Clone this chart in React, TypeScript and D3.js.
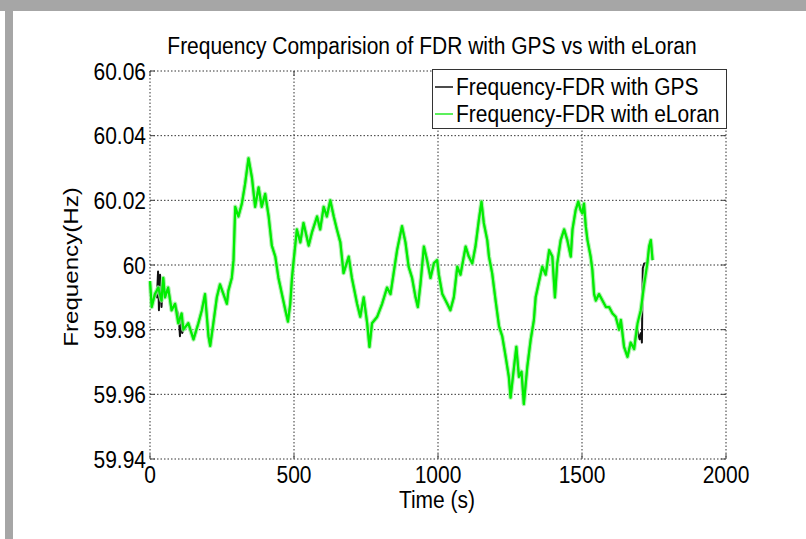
import React from "react";
import * as d3 from "d3";

// ---- data ----
const xTicks = [0, 500, 1000, 1500, 2000];
const yTicks = [59.94, 59.96, 59.98, 60, 60.02, 60.04, 60.06];
const yTickLabels = ["59.94", "59.96", "59.98", "60", "60.02", "60.04", "60.06"];

const eloranTimes = [
  0, 6, 17, 29, 40, 46, 52, 63, 75, 87, 98, 110, 116, 133, 151, 168, 180, 191, 203, 209,
  220, 232, 243, 255, 267, 272, 284, 290, 296, 307, 319, 330, 342, 354, 365, 377, 388, 400, 412, 423,
  435, 446, 458, 470, 479, 487, 493, 499, 510, 522, 533, 551, 562, 580, 591, 603, 614, 626, 638, 649,
  661, 672, 690, 701, 719, 730, 742, 754, 762, 771, 789, 806, 823, 835, 846, 858, 875, 887, 898, 910,
  922, 930, 939, 951, 962, 974, 986, 997, 1003, 1015, 1032, 1043, 1055, 1067, 1078, 1096, 1107, 1119, 1130, 1142,
  1151, 1159, 1171, 1177, 1188, 1200, 1212, 1223, 1235, 1246, 1252, 1264, 1272, 1281, 1290, 1298, 1310, 1322, 1333, 1339,
  1351, 1362, 1374, 1386, 1397, 1406, 1414, 1426, 1438, 1449, 1461, 1467, 1478, 1487, 1495, 1501, 1507, 1513, 1519, 1530,
  1536, 1542, 1548, 1559, 1571, 1583, 1594, 1606, 1617, 1629, 1635, 1646, 1658, 1669, 1681, 1693, 1704, 1716, 1727, 1733,
  1739, 1745,
];
const eloranValues = [
  59.995, 59.987, 59.991, 59.993, 59.989, 59.996, 59.99, 59.993, 59.986, 59.988, 59.982, 59.985, 59.98, 59.982, 59.977, 59.982, 59.986, 59.991, 59.978, 59.975,
  59.982, 59.99, 59.994, 59.991, 59.988, 59.992, 59.996, 60.0015, 60.018, 60.015, 60.019, 60.025, 60.033, 60.027, 60.018, 60.024, 60.018, 60.022, 60.015, 60.006,
  60.0026, 59.996, 59.991, 59.986, 59.9825, 59.988, 59.996, 60.0015, 60.011, 60.007, 60.013, 60.006, 60.01, 60.015, 60.011, 60.018, 60.015, 60.02, 60.015, 60.011,
  60.007, 59.9975, 60.0026, 59.996, 59.988, 59.984, 59.99, 59.982, 59.9747, 59.982, 59.984, 59.988, 59.993, 59.991, 59.9975, 60.0046, 60.012, 60.007, 59.9995, 59.996,
  59.99, 59.987, 59.994, 60.0057, 60.0015, 59.996, 60.0006, 60.0015, 59.997, 59.991, 59.988, 59.986, 59.99, 59.9995, 59.997, 60.0057, 60.0026, 60.0005, 60.0057, 60.014,
  60.0196, 60.013, 60.0077, 60.0026, 59.9975, 59.989, 59.981, 59.978, 59.9716, 59.9654, 59.959, 59.9685, 59.9747, 59.9654, 59.967, 59.957, 59.9685, 59.977, 59.983, 59.99,
  59.995, 59.9995, 59.997, 60.0046, 60.0026, 59.99, 60.0005, 60.0077, 60.011, 60.0077, 60.0026, 60.011, 60.017, 60.0196, 60.017, 60.016, 60.019, 60.012, 60.0077, 60.0026,
  59.9985, 59.991, 59.989, 59.991, 59.989, 59.987, 59.987, 59.985, 59.984, 59.98, 59.983, 59.9747, 59.9716, 59.976, 59.974, 59.982, 59.986, 59.994, 60.0006, 60.0057,
  60.0077, 60.0015,
];

// GPS matches eLoran except in these short windows
const gpsOverrideTimes = [24, 28, 31, 35, 40, 100, 104, 108, 112, 1690, 1700, 1705, 1708, 1711, 1716];
const gpsOverrideValues = [59.99, 59.998, 59.986, 59.997, 59.987, 59.984, 59.978, 59.985, 59.979, 59.981, 59.977, 59.979, 59.976, 59.999, 60.0005];

const seriesNames = ["Frequency-FDR with GPS", "Frequency-FDR with eLoran"];

const W = 806;
const H = 539;
const M = { left: 150, right: 726, top: 71, bottom: 459 };
const FONT = "'Liberation Sans', Arial, Helvetica, sans-serif";
const SY = 1.15; // the reference glyphs are vertically stretched

function T(props: { x: number; y: number; anchor?: string; rotate?: boolean; children: React.ReactNode }) {
  const { x, y, anchor = "start", rotate = false, children } = props;
  const tf = rotate ? `translate(${x},${y}) scale(1,${SY}) rotate(-90)` : `translate(${x},${y}) scale(1,${SY})`;
  return (
    <text transform={tf} textAnchor={anchor} fontSize={21} fill="#000">
      {children}
    </text>
  );
}

export default function App() {
  const x = d3.scaleLinear().domain([0, 2000]).range([M.left, M.right]);
  const y = d3.scaleLinear().domain([59.94, 60.06]).range([M.bottom, M.top]);

  const eloran: [number, number][] = eloranTimes.map((t, i) => [t, eloranValues[i]]);
  const windows = [
    [20, 44],
    [96, 114],
    [1686, 1718],
  ];
  const inWindow = (t: number) => windows.some(([a, b]) => t >= a && t <= b);
  const gps: [number, number][] = eloran
    .filter(([t]) => !inWindow(t))
    .concat(gpsOverrideTimes.map((t, i) => [t, gpsOverrideValues[i]] as [number, number]))
    .sort((a, b) => a[0] - b[0]);

  const line = d3
    .line<[number, number]>()
    .x((d) => x(d[0]))
    .y((d) => y(d[1]));

  const grid = "#333";
  return (
    <svg
      width={W}
      height={H}
      style={{ position: "absolute", left: 0, top: 0, background: "#fff" }}
      fontFamily={FONT}
    >
      {/* grey frame */}
      <rect x={0} y={0} width={W} height={11} fill="#a6a6a6" />
      <rect x={5} y={0} width={8} height={H} fill="#a6a6a6" />

      {/* grid */}
      {xTicks.map((t) => (
        <line key={"gx" + t} x1={x(t)} x2={x(t)} y1={M.top} y2={M.bottom} stroke={grid} strokeWidth={1} strokeDasharray="1.5,2" />
      ))}
      {yTicks.map((t) => (
        <line key={"gy" + t} x1={M.left} x2={M.right} y1={y(t)} y2={y(t)} stroke={grid} strokeWidth={1} strokeDasharray="1.5,2" />
      ))}
      {/* small inward ticks */}
      {xTicks.map((t) => (
        <g key={"tx" + t}>
          <line x1={x(t)} x2={x(t)} y1={M.bottom} y2={M.bottom - 5} stroke="#444" />
          <line x1={x(t)} x2={x(t)} y1={M.top} y2={M.top + 5} stroke="#444" />
        </g>
      ))}
      {yTicks.map((t) => (
        <g key={"ty" + t}>
          <line x1={M.left} x2={M.left + 5} y1={y(t)} y2={y(t)} stroke="#444" />
          <line x1={M.right} x2={M.right - 5} y1={y(t)} y2={y(t)} stroke="#444" />
        </g>
      ))}

      {/* series */}
      <path d={line(gps) || ""} fill="none" stroke="#111" strokeWidth={2} strokeLinejoin="round" />
      <path d={line(eloran) || ""} fill="none" stroke="#9cf09c" strokeWidth={4.5} strokeLinejoin="round" opacity={0.8} />
      <path d={line(eloran) || ""} fill="none" stroke="#00ee00" strokeWidth={2.2} strokeLinejoin="round" />

      {/* tick labels */}
      {yTicks.map((t, i) => (
        <T key={"ly" + t} x={M.left - 4} y={y(t) + 8.5} anchor="end">
          {yTickLabels[i]}
        </T>
      ))}
      {xTicks.map((t) => (
        <T key={"lx" + t} x={x(t)} y={483} anchor="middle">
          {t}
        </T>
      ))}

      {/* titles */}
      <T x={432} y={54} anchor="middle">
        Frequency Comparision of FDR with GPS vs with eLoran
      </T>
      <T x={437} y={508} anchor="middle">
        Time (s)
      </T>
      <T x={78} y={(M.top + M.bottom) / 2 + 2} anchor="middle" rotate>
        Frequency(Hz)
      </T>

      {/* legend */}
      <rect x={432.5} y={69.5} width={294} height={59} fill="#fff" stroke="#333" strokeWidth={1} />
      <line x1={435} x2={453} y1={87} y2={87} stroke="#111" strokeWidth={1.5} />
      <line x1={435} x2={453} y1={114} y2={114} stroke="#5cf05c" strokeWidth={2} />
      <T x={456} y={95}>{seriesNames[0]}</T>
      <T x={456} y={122}>{seriesNames[1]}</T>
    </svg>
  );
}
